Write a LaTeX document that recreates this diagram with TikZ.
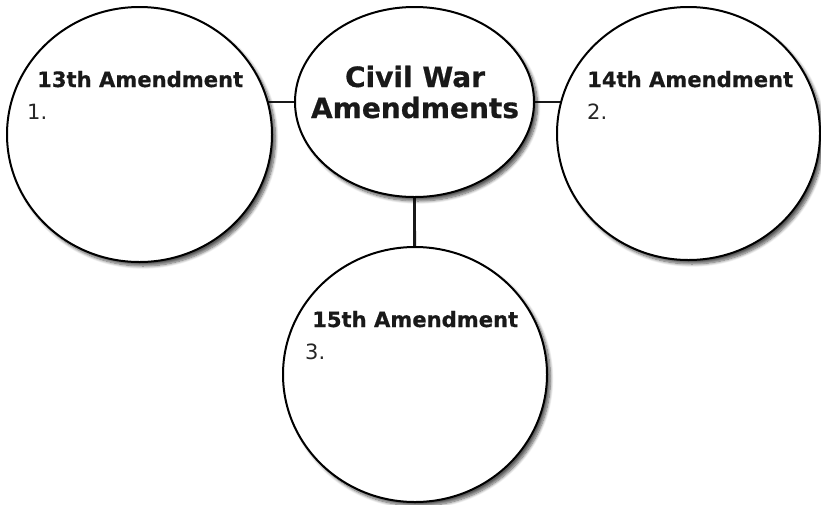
\documentclass[tikz,border=0pt]{standalone}
\usepackage{fontspec}
\setmainfont{DejaVu Sans}
\newfontfamily\heavyfont{DejaVu Sans Bold}[FakeBold=0.6]
\usetikzlibrary{shapes.geometric,shadows.blur,backgrounds}
\begin{document}
\begin{tikzpicture}[x=1pt,y=-1pt,
  bubble/.style={ellipse,draw=black,line width=2pt,fill=white,inner sep=0pt,
    blur shadow={shadow xshift=3.5pt,shadow yshift=-4pt,shadow blur steps=8,shadow blur radius=3pt,shadow opacity=65}},
  head/.style={anchor=base west,inner sep=0pt,font=\fontsize{21.1}{25}\heavyfont,text=black!90},
  num/.style={anchor=base west,inner sep=0pt,font=\fontsize{21}{25}\selectfont,text=black!85},
  link/.style={line width=2.8pt,draw=black!90}]
\useasboundingbox (0,0) rectangle (821,504);
\node[bubble,minimum width=265pt,minimum height=255pt] (c13) at (139.5,134.5) {};
\node[bubble,minimum width=239pt,minimum height=190pt] (cw) at (414.5,102) {};
\node[bubble,minimum width=263pt,minimum height=253pt] (c14) at (688.5,133.5) {};
\node[bubble,minimum width=264pt,minimum height=255pt] (c15) at (415,374.5) {};
\begin{scope}[on background layer]
\draw[link] (cw.west) -- (cw.west -| c13.center);
\draw[link] (cw.east) -- (cw.east -| c14.center);
\draw[link] (cw.south) -- (c15.center);
\end{scope}
\node[anchor=base,inner sep=0pt,align=center,font=\fontsize{28}{31}\heavyfont,text=black!90] (cwt) at (415,118) {Civil War\\Amendments};
\node[head] (h13) at (37,87) {13th Amendment};
\node[num] (n1) at (27,119) {1.};
\node[head] (h14) at (587,87) {14th Amendment};
\node[num] (n2) at (587,119) {2.};
\node[head] (h15) at (312,327) {15th Amendment};
\node[num] (n3) at (305,359) {3.};
\end{tikzpicture}
\end{document}
